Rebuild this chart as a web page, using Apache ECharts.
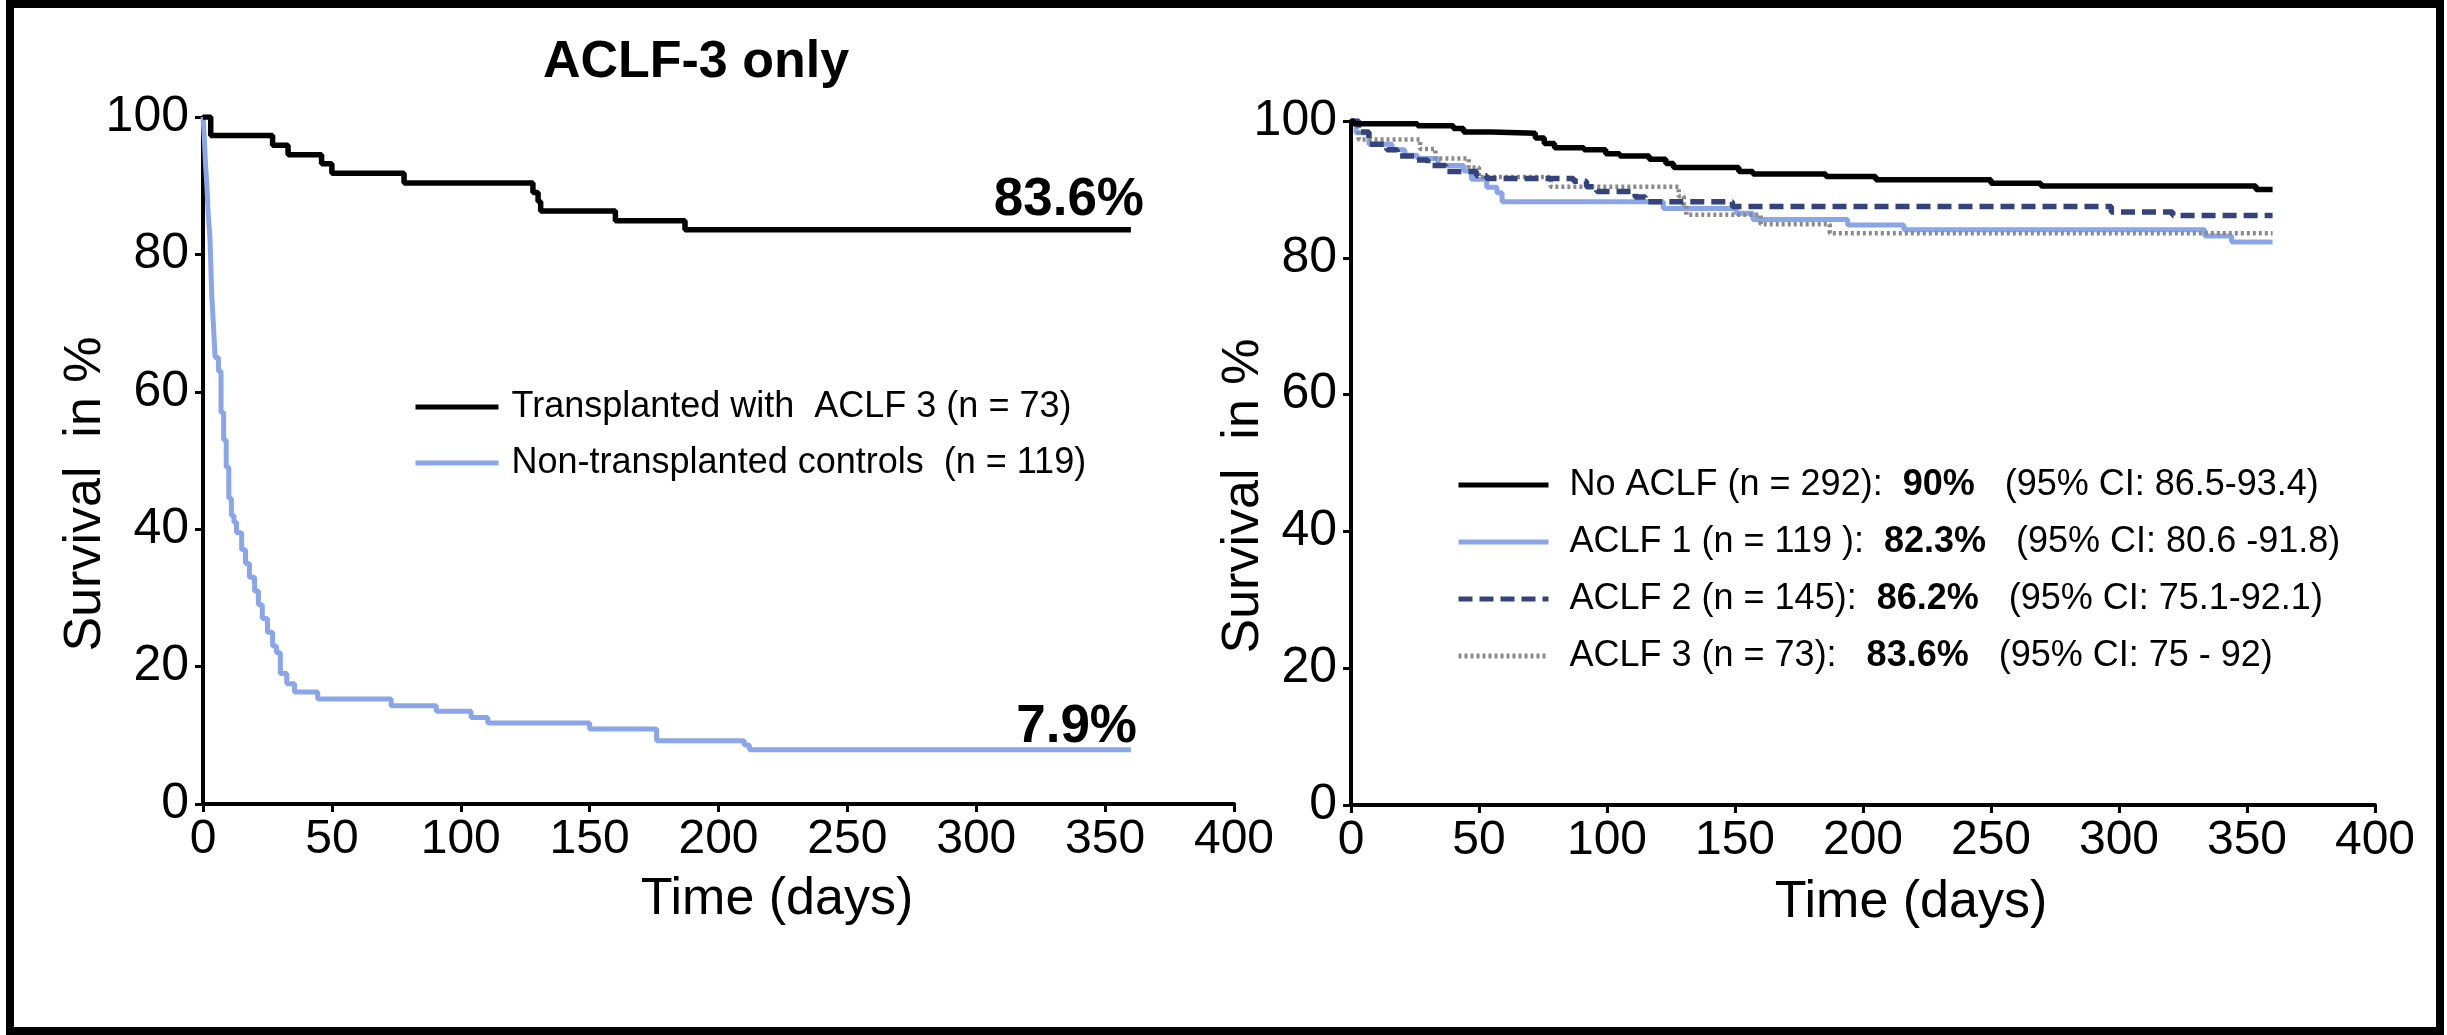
<!DOCTYPE html>
<html><head><meta charset="utf-8">
<script src="https://cdn.jsdelivr.net/npm/echarts@6/dist/echarts.min.js"></script>
<style>html,body{margin:0;padding:0;background:#fff}#c{width:2447px;height:1035px}</style>
</head><body><div id="c"></div>
<script>
const FONT = '"Liberation Sans", Arial, Helvetica, sans-serif';

// ---- Left panel: ACLF-3 only ----
const tx3Days = [0, 3, 27, 33, 46, 50, 78, 128, 130, 131, 160, 187, 360];
const tx3Surv = [100, 97.3, 95.9, 94.5, 93.2, 91.8, 90.4, 89.0, 87.7, 86.3, 84.9, 83.6, 83.6];

const ctrlDays = [0, 0.5, 1, 1.5, 2, 2.7, 3.4, 4, 4.7, 6, 7, 8, 9, 10, 11, 12, 13, 15, 16.5, 18, 20, 21.5, 23, 25, 27, 28.5, 30, 32.5, 35.5, 44.5, 73, 90.5, 104, 110.5, 150, 176, 210, 212, 360];
const ctrlSurv = [100, 97, 93, 90, 86, 82.4, 74, 70, 65, 63, 57, 53, 49, 44.5, 42, 41, 39.5, 37, 35, 33, 31, 29, 27, 25, 23, 22, 19, 17.5, 16.3, 15.3, 14.3, 13.5, 12.6, 11.8, 10.9, 9.2, 8.6, 7.9, 7.9];

// ---- Right panel: by ACLF grade ----
const noAclfDays = [0, 1, 26, 40, 44, 55, 72, 75.5, 79.5, 91, 99.5, 105, 116.5, 123, 126, 151.5, 157, 185.5, 205, 250, 269.5, 353.5, 360];
const noAclfSurv = [100, 99.6, 99.3, 98.9, 98.4, 98.2, 97.5, 96.7, 96.1, 95.8, 95.2, 94.9, 94.4, 93.8, 93.2, 92.6, 92.25, 91.9, 91.4, 90.9, 90.5, 90.0, 90.0];

const aclf1Days = [0, 2, 7, 16, 21, 26, 34, 44, 47, 53, 57, 59, 122, 150.5, 157, 194, 216, 333.5, 344, 360];
const aclf1Surv = [100, 98.3, 96.6, 95.8, 95.0, 94.5, 93.5, 92.7, 91.5, 90.3, 89.5, 88.2, 87.2, 86.5, 85.6, 84.8, 84.1, 83.2, 82.3, 82.3];

const aclf2Days = [0, 3, 7, 14, 18, 25, 30, 37, 49, 53, 87, 92, 96, 111, 115, 149, 297, 321, 360];
const aclf2Surv = [100, 98.4, 96.6, 95.8, 94.9, 94.3, 93.5, 92.6, 92.0, 91.6, 91.2, 90.4, 89.7, 88.9, 88.2, 87.5, 86.7, 86.2, 86.2];

// ACLF 3 curve on the right is the same cohort as the transplanted ACLF-3 curve
const aclf3Days = tx3Days;
const aclf3Surv = tx3Surv;

const legendNamesLeft = ['Transplanted with  ACLF 3 (n = 73)', 'Non-transplanted controls  (n = 119)'];
const legendNamesRight = ['No ACLF', 'ACLF 1', 'ACLF 2', 'ACLF 3'];
const legendTextRight = {
  'No ACLF': 'No ACLF (n = 292):  {b|90%}   (95% CI: 86.5-93.4)',
  'ACLF 1': 'ACLF 1 (n = 119 ):  {b|82.3%}   (95% CI: 80.6 -91.8)',
  'ACLF 2': 'ACLF 2 (n = 145):  {b|86.2%}   (95% CI: 75.1-92.1)',
  'ACLF 3': 'ACLF 3 (n = 73):   {b|83.6%}   (95% CI: 75 - 92)'
};

const pairs = (d, s) => d.map((x, i) => [x, s[i]]);

const BLACK = '#000000';
const BLUE = '#8aa6e8';
const NAVY = '#34437c';
const GRAY = '#8a8a8a';

function xAxis(idx) {
  return {
    type: 'value', gridIndex: idx, min: 0, max: 400, interval: 50,
    axisLine: { show: true, lineStyle: { color: BLACK, width: 4 } },
    axisTick: { show: true, length: 8, lineStyle: { color: BLACK, width: 3 } },
    axisLabel: { color: BLACK, fontSize: 48, fontFamily: FONT, margin: 12 },
    splitLine: { show: false }
  };
}
function yAxis(idx) {
  return {
    type: 'value', gridIndex: idx, min: 0, max: 100, interval: 20,
    axisLine: { show: true, lineStyle: { color: BLACK, width: 4 } },
    axisTick: { show: true, length: 8, lineStyle: { color: BLACK, width: 3 } },
    axisLabel: { color: BLACK, fontSize: 50, fontFamily: FONT, margin: 14 },
    splitLine: { show: false }
  };
}
function km(name, gi, d, s, color, width, type, z) {
  return {
    name, type: 'line', xAxisIndex: gi, yAxisIndex: gi, step: 'end',
    symbol: 'none', showSymbol: false, data: pairs(d, s),
    lineStyle: { color, width, type: type || 'solid' },
    itemStyle: { color }, z: z || 2, silent: true
  };
}

const chart = echarts.init(document.getElementById('c'), null, { renderer: 'canvas' });
chart.setOption({
  animation: false,
  backgroundColor: '#ffffff',
  grid: [
    { left: 203, top: 117, width: 1031, height: 687 },
    { left: 1351, top: 121, width: 1024, height: 684 }
  ],
  xAxis: [xAxis(0), xAxis(1)],
  yAxis: [yAxis(0), yAxis(1)],
  legend: [
    {
      data: legendNamesLeft, orient: 'vertical', left: 413, top: 387,
      itemWidth: 83, itemHeight: 14, itemGap: 16, padding: 0, selectedMode: false,
      itemStyle: { opacity: 0 }, lineStyle: { width: 5 },
      textStyle: { fontSize: 36, color: BLACK, fontFamily: FONT, lineHeight: 40, padding: [0, 0, 0, 8] }
    },
    {
      data: legendNamesRight, orient: 'vertical', left: 1456, top: 465,
      itemWidth: 90, itemHeight: 14, itemGap: 17, padding: 0, selectedMode: false,
      itemStyle: { opacity: 0 }, lineStyle: { width: 5 },
      formatter: n => legendTextRight[n],
      textStyle: {
        fontSize: 36, color: BLACK, fontFamily: FONT, lineHeight: 40, padding: [0, 0, 0, 16],
        rich: { b: { fontSize: 36, fontWeight: 'bold', color: BLACK, fontFamily: FONT, lineHeight: 40 } }
      }
    }
  ],
  series: [
    km(legendNamesLeft[1], 0, ctrlDays, ctrlSurv, BLUE, 5, 'solid', 2),
    km(legendNamesLeft[0], 0, tx3Days, tx3Surv, BLACK, 5.5, 'solid', 3),
    km('ACLF 1', 1, aclf1Days, aclf1Surv, BLUE, 5, 'solid', 2),
    km('ACLF 3', 1, aclf3Days, aclf3Surv, GRAY, 4.5, [3, 3], 3),
    km('ACLF 2', 1, aclf2Days, aclf2Surv, NAVY, 5.5, [14, 7], 4),
    km('No ACLF', 1, noAclfDays, noAclfSurv, BLACK, 5.5, 'solid', 5)
  ],
  graphic: [
    { type: 'rect', silent: true, shape: { x: 10, y: 4, width: 2430, height: 1027 },
      style: { fill: 'none', stroke: BLACK, lineWidth: 8 } },
    { type: 'text', x: 696, y: 63, silent: true,
      style: { text: 'ACLF-3 only', fontSize: 52, fontWeight: 'bold', fontFamily: FONT, fill: BLACK, align: 'center', verticalAlign: 'middle' } },
    { type: 'text', x: 1144, y: 200, silent: true,
      style: { text: '83.6%', fontSize: 53, fontWeight: 'bold', fontFamily: FONT, fill: BLACK, align: 'right', verticalAlign: 'middle' } },
    { type: 'text', x: 1137, y: 727, silent: true,
      style: { text: '7.9%', fontSize: 53, fontWeight: 'bold', fontFamily: FONT, fill: BLACK, align: 'right', verticalAlign: 'middle' } },
    { type: 'text', x: 86, y: 494, rotation: Math.PI / 2, silent: true,
      style: { text: 'Survival  in %', fontSize: 52, fontFamily: FONT, fill: BLACK, align: 'center', verticalAlign: 'middle' } },
    { type: 'text', x: 1244, y: 496, rotation: Math.PI / 2, silent: true,
      style: { text: 'Survival  in %', fontSize: 52, fontFamily: FONT, fill: BLACK, align: 'center', verticalAlign: 'middle' } },
    { type: 'text', x: 777, y: 900, silent: true,
      style: { text: 'Time (days)', fontSize: 52, fontFamily: FONT, fill: BLACK, align: 'center', verticalAlign: 'middle' } },
    { type: 'text', x: 1911, y: 903, silent: true,
      style: { text: 'Time (days)', fontSize: 52, fontFamily: FONT, fill: BLACK, align: 'center', verticalAlign: 'middle' } }
  ]
});
</script></body></html>
